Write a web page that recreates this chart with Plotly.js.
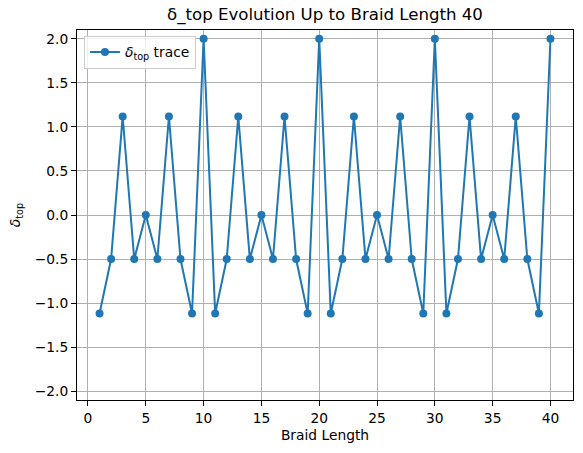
<!DOCTYPE html>
<html>
<head>
<meta charset="utf-8">
<script src="https://cdn.plot.ly/plotly-3.0.1.min.js"></script>
<style>
  html, body { margin: 0; padding: 0; background: #fff; }
  #chart { width: 583px; height: 453px; }
</style>
</head>
<body>
<div id="chart"></div>
<script>
// braid lengths 1..40 and the delta_top value at each
const braidLength = [
  1, 2, 3, 4, 5, 6, 7, 8, 9, 10,
  11, 12, 13, 14, 15, 16, 17, 18, 19, 20,
  21, 22, 23, 24, 25, 26, 27, 28, 29, 30,
  31, 32, 33, 34, 35, 36, 37, 38, 39, 40
];
const deltaTop = [
  -1.118, -0.5, 1.118, -0.5, 0, -0.5, 1.118, -0.5, -1.118, 2,
  -1.118, -0.5, 1.118, -0.5, 0, -0.5, 1.118, -0.5, -1.118, 2,
  -1.118, -0.5, 1.118, -0.5, 0, -0.5, 1.118, -0.5, -1.118, 2,
  -1.118, -0.5, 1.118, -0.5, 0, -0.5, 1.118, -0.5, -1.118, 2
];
const xTicks = [0, 5, 10, 15, 20, 25, 30, 35, 40];
const yTicks = [-2.0, -1.5, -1.0, -0.5, 0.0, 0.5, 1.0, 1.5, 2.0];

const blue = '#1f77b4';

const trace = {
  x: braidLength,
  y: deltaTop,
  type: 'scatter',
  mode: 'lines+markers',
  name: '<i>δ</i><sub>top</sub> trace',
  line: { color: blue, width: 2 },
  marker: { color: blue, size: 8 }
};

// shared axis look, matplotlib-ish
const axisBase = {
  showline: true,
  mirror: true,
  linecolor: '#000',
  linewidth: 1,
  ticks: 'outside',
  ticklen: 5,
  tickwidth: 1,
  tickcolor: '#000',
  showgrid: true,
  gridcolor: '#b0b0b0',
  gridwidth: 1,
  zeroline: false,
  tickfont: { size: 13.8, color: '#000' }
};

const layout = {
  width: 583,
  height: 453,
  margin: { l: 77, r: 10, t: 30, b: 53 },
  paper_bgcolor: '#fff',
  plot_bgcolor: '#fff',
  font: { family: 'DejaVu Sans, sans-serif', color: '#000' },
  title: {
    text: 'δ_top Evolution Up to Braid Length 40',
    font: { size: 16.6 },
    x: 0.5 + (77 - 10) / 2 / 583,
    xanchor: 'center',
    y: 1 - 14 / 453,
    yanchor: 'middle'
  },
  xaxis: Object.assign({}, axisBase, {
    range: [-0.95, 41.95],
    tickvals: xTicks,
    ticktext: xTicks.map(String),
    title: { text: 'Braid Length', font: { size: 13.8 }, standoff: 5 }
  }),
  yaxis: Object.assign({}, axisBase, {
    range: [-2.1, 2.1],
    tickvals: yTicks,
    ticktext: yTicks.map(v => (v < 0 ? '\u2212' : '') + Math.abs(v).toFixed(1)),
    title: { text: '<i>δ</i><sub>top</sub>', font: { size: 13.8 }, standoff: 10 }
  }),
  showlegend: true,
  legend: {
    x: 0.014,
    y: 0.985,
    xanchor: 'left',
    yanchor: 'top',
    bgcolor: 'rgba(255,255,255,0.8)',
    bordercolor: '#cccccc',
    borderwidth: 1,
    font: { size: 13.8 }
  }
};

Plotly.newPlot('chart', [trace], layout, { displayModeBar: false, staticPlot: true });
</script>
</body>
</html>
